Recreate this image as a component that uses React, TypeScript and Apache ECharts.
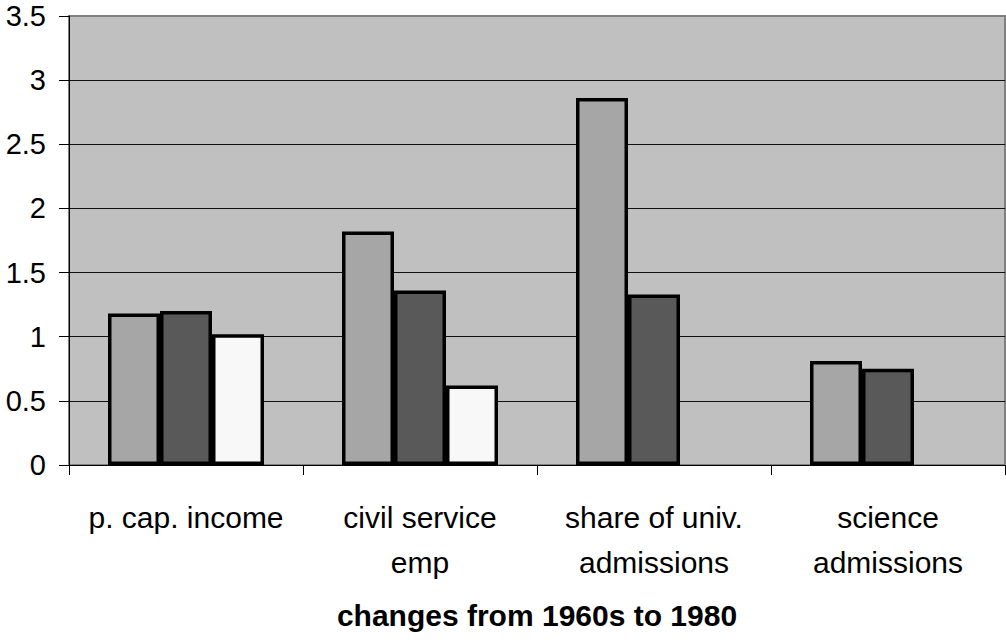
import React, { useEffect, useRef } from "react";
import * as echarts from "echarts";

const categories = ["p. cap. income", "civil service\nemp", "share of univ.\nadmissions", "science\nadmissions"];
const seriesA = [1.18, 1.82, 2.86, 0.81];
const seriesB = [1.2, 1.36, 1.33, 0.75];
const seriesC: (number | null)[] = [1.02, 0.62, null, null];
const yTicks = { min: 0, max: 3.5, interval: 0.5 };
const axisTitle = "changes from 1960s to 1980";

export default function App() {
  const ref = useRef<HTMLDivElement>(null);
  useEffect(() => {
    const chart = echarts.init(ref.current!, null, { renderer: "svg" });
    const barStyle = (color: string) => ({
      color,
      borderColor: "#000",
      borderWidth: 3.5,
    });
    chart.setOption({
      animation: false,
      textStyle: { fontFamily: "Liberation Sans" },
      grid: {
        left: 69,
        right: 1,
        top: 16,
        bottom: 178,
        show: true,
        backgroundColor: "#c0c0c0",
        borderColor: "#808080",
        borderWidth: 2,
      },
      xAxis: {
        type: "category",
        data: categories,
        axisLine: { show: true, lineStyle: { color: "#000", width: 1 } },
        axisTick: { show: true, interval: 0, length: 10, lineStyle: { color: "#000" } },
        axisLabel: {
          interval: 0,
          color: "#000",
          fontSize: 30,
          lineHeight: 45,
          margin: 30,
          fontFamily: "Liberation Sans",
        },
        name: axisTitle,
        nameLocation: "middle",
        nameGap: 135,
        nameTextStyle: {
          color: "#000",
          fontSize: 30,
          fontWeight: "bold",
          fontFamily: "Liberation Sans",
        },
      },
      yAxis: {
        type: "value",
        min: yTicks.min,
        max: yTicks.max,
        interval: yTicks.interval,
        axisLine: { show: true, lineStyle: { color: "#000", width: 1 } },
        axisTick: { show: true, length: 10, lineStyle: { color: "#000" } },
        axisLabel: {
          color: "#000",
          fontSize: 29,
          margin: 23,
          fontFamily: "Liberation Sans",
        },
        splitLine: {
          show: true,
          showMaxLine: false,
          lineStyle: { color: "#111", width: 1 },
        },
      },
      series: [
        { type: "bar", data: seriesA, barWidth: 52, barGap: "0%", itemStyle: barStyle("#a6a6a6") },
        { type: "bar", data: seriesB, barWidth: 52, barGap: "0%", itemStyle: barStyle("#595959") },
        { type: "bar", data: seriesC, barWidth: 52, barGap: "0%", itemStyle: barStyle("#f8f8f8") },
      ],
    });
    return () => chart.dispose();
  }, []);
  return (
    <div
      ref={ref}
      style={{ position: "fixed", left: 0, top: 0, width: 1006, height: 643, background: "#fff" }}
    />
  );
}
